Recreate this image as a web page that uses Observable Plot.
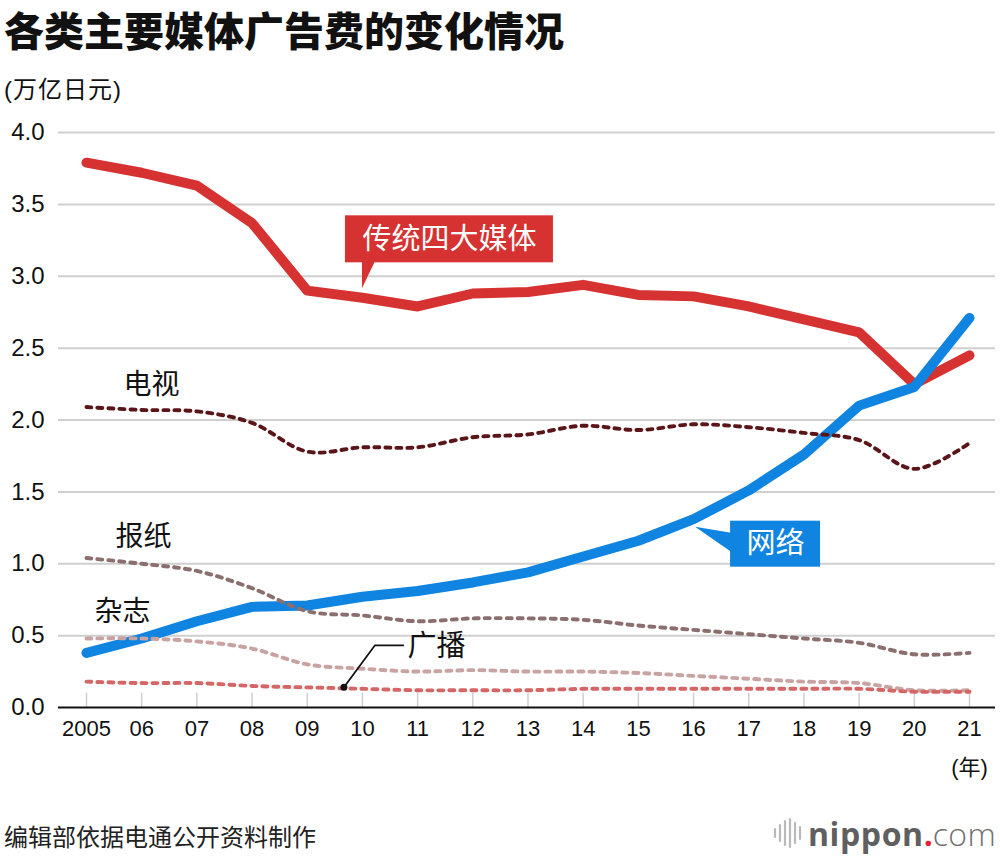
<!DOCTYPE html>
<html>
<head>
<meta charset="utf-8">
<script src="https://cdn.jsdelivr.net/npm/d3@7"></script>
<script src="https://cdn.jsdelivr.net/npm/@observablehq/plot@0.6"></script>
<style>
  body { margin: 0; background: #fff; }
  #wrap { position: relative; width: 1000px; height: 856px; color: #111;
          font-family: "Liberation Sans", "Noto Sans CJK SC", sans-serif; }
  #title { position: absolute; left: 4px; top: 0px; width: 990px; font: 900 40px "Noto Sans CJK SC", sans-serif; line-height: 58px; white-space: nowrap; }
  #unit { position: absolute; left: 4px; top: 74px; width: 400px; font: 400 24px "Liberation Sans", "Noto Sans CJK SC", sans-serif; line-height: 32px; letter-spacing: 1px; white-space: nowrap; }
  #chart { position: absolute; left: 0; top: 110px; }
  #caption { position: absolute; left: 4px; top: 819px; width: 600px; font: 400 24px "Noto Sans CJK SC", sans-serif; line-height: 34px; white-space: nowrap; color: #222; }
  #logo { position: absolute; right: 4px; top: 813px; height: 40px; display: flex; align-items: center; white-space: nowrap; }
  #logo .n { font: 700 32px "Open Sans", sans-serif; color: #5f5f5f; letter-spacing: 0.6px; }
  #logo .dot { font: 700 32px "Open Sans", sans-serif; color: #e3262e; }
  #logo .c { font: 300 32px "Open Sans", sans-serif; color: #6f6f6f; letter-spacing: 0.3px; }
</style>
</head>
<body>
<div id="wrap">
  <div id="title">各类主要媒体广告费的变化情况</div>
  <div id="unit">(万亿日元)</div>
  <div id="chart"></div>
  <div id="caption">编辑部依据电通公开资料制作</div>
  <div id="logo">
    <svg width="30" height="32" style="margin-right:6px">
      <g stroke="#b9b9b9" stroke-width="2.2" stroke-linecap="round">
        <line x1="3" x2="3" y1="12" y2="20"/>
        <line x1="8" x2="8" y1="8" y2="24"/>
        <line x1="13" x2="13" y1="4" y2="28"/>
        <line x1="18" x2="18" y1="2" y2="30"/>
        <line x1="23" x2="23" y1="6" y2="26"/>
        <line x1="28" x2="28" y1="10" y2="22"/>
      </g>
    </svg>
    <span class="n">nippon</span><span class="dot">.</span><span class="c">com</span>
  </div>
</div>
<script>
// ---- data (万亿日元) ----
const years = [2005, 2006, 2007, 2008, 2009, 2010, 2011, 2012, 2013, 2014, 2015, 2016, 2017, 2018, 2019, 2020, 2021];
const xTickLabels = ["2005", "06", "07", "08", "09", "10", "11", "12", "13", "14", "15", "16", "17", "18", "19", "20", "21"];
const yTicks = [0, 0.5, 1, 1.5, 2, 2.5, 3, 3.5, 4];

const fourMedia = [3.79, 3.72, 3.63, 3.37, 2.90, 2.85, 2.79, 2.88, 2.89, 2.94, 2.87, 2.86, 2.79, 2.70, 2.61, 2.25, 2.45];
const internet  = [0.38, 0.48, 0.60, 0.70, 0.71, 0.77, 0.81, 0.87, 0.94, 1.05, 1.16, 1.31, 1.51, 1.76, 2.10, 2.23, 2.71];
const tv        = [2.09, 2.07, 2.06, 1.98, 1.78, 1.81, 1.81, 1.88, 1.90, 1.96, 1.93, 1.97, 1.95, 1.91, 1.86, 1.66, 1.84];
const newspaper = [1.04, 1.00, 0.95, 0.83, 0.67, 0.64, 0.60, 0.62, 0.62, 0.61, 0.57, 0.54, 0.51, 0.48, 0.45, 0.37, 0.38];
const magazine  = [0.48, 0.48, 0.46, 0.41, 0.30, 0.27, 0.25, 0.26, 0.25, 0.25, 0.24, 0.22, 0.20, 0.18, 0.17, 0.12, 0.12];
const radio     = [0.18, 0.17, 0.17, 0.15, 0.14, 0.13, 0.12, 0.12, 0.12, 0.13, 0.13, 0.13, 0.13, 0.13, 0.13, 0.11, 0.11];

const seriesNames = ["传统四大媒体", "网络", "电视", "报纸", "杂志", "广播"];

const RED = "#d63232", BLUE = "#0f84e0";
const TV_C = "#5b1519", NP_C = "#8b6e6e", MG_C = "#c9a2a2", RD_C = "#d46666";
const CJK = '"Noto Sans CJK SC", sans-serif';

const rows = (vals) => years.map((y, i) => ({year: y, value: vals[i]}));

const thick = (vals, color) => Plot.line(rows(vals), {
  x: "year", y: "value", stroke: color, strokeWidth: 10,
  strokeLinejoin: "round", strokeLinecap: "round"
});
const dashed = (vals, color) => Plot.line(rows(vals), {
  x: "year", y: "value", stroke: color, strokeWidth: 3.9, curve: "catmull-rom",
  strokeDasharray: "5,6", strokeLinecap: "round"
});
const seriesLabel = (name, vals, dx, dy) => Plot.text([name], {
  x: () => years[0], y: () => vals[0], text: d => d, dx, dy,
  fontSize: 28, fill: "#111", fontFamily: CJK
});

const chart = Plot.plot({
  width: 1000, height: 680,
  marginTop: 22, marginBottom: 83, marginLeft: 58, marginRight: 5,
  style: {fontFamily: '"Liberation Sans", "Noto Sans CJK SC", sans-serif', background: "transparent", color: "#111", overflow: "visible"},
  x: {domain: [years[0], years[years.length - 1]], insetLeft: 28, insetRight: 26},
  y: {domain: [0, 4]},
  marks: [
    Plot.ruleY(yTicks.filter(d => d > 0), {stroke: "#cfcfcf", strokeWidth: 2}),
    Plot.ruleX(years, {x: d => d, y1: 0, y2: 0.1, stroke: "#cfcfcf", strokeWidth: 1.5}),
    Plot.ruleY([0], {stroke: "#111", strokeWidth: 2}),
    Plot.axisY({ticks: yTicks, tickSize: 0, tickPadding: 14, tickFormat: d => d.toFixed(1), fontSize: 24, label: null}),
    Plot.axisX({ticks: years, tickSize: 0, tickPadding: 13, tickFormat: d => xTickLabels[years.indexOf(d)], fontSize: 22, label: null}),
    Plot.text(["(年)"], {x: () => years[years.length - 1], y: () => 0, text: d => d, dy: 60, fontSize: 22, fill: "#111"}),
    thick(fourMedia, RED),
    thick(internet, BLUE),
    dashed(tv, TV_C),
    dashed(newspaper, NP_C),
    dashed(magazine, MG_C),
    dashed(radio, RD_C),
    seriesLabel(seriesNames[2], tv, 65, -22),
    seriesLabel(seriesNames[3], newspaper, 57, -21),
    seriesLabel(seriesNames[4], magazine, 36, -26),
    Plot.text([seriesNames[5]], {x: () => years[5], y: () => radio[5], text: d => d, dx: 45, dy: -42,
      textAnchor: "start", fontSize: 29, fill: "#111", fontFamily: CJK}),
    Plot.text([seriesNames[0]], {x: () => years[5], y: () => fourMedia[5], text: d => d, dx: 87, dy: -58,
      fontSize: 29, fill: "#fff", fontFamily: CJK}),
    Plot.text([seriesNames[1]], {x: () => years[11], y: () => internet[11], text: d => d, dx: 82, dy: 25,
      fontSize: 29, fill: "#fff", fontFamily: CJK})
  ]
});
document.getElementById("chart").appendChild(chart);

// ---- callout boxes and leader, placed from the chart's own scales ----
const sx = chart.scale("x"), sy = chart.scale("y");
function findTextGroup(str) {
  const t = Array.from(chart.querySelectorAll("text")).find(e => e.textContent === str);
  return t ? t.closest("g[aria-label]") || t.parentNode : null;
}
function insertBefore(g, tag) {
  const el = document.createElementNS("http://www.w3.org/2000/svg", tag);
  g.parentNode.insertBefore(el, g);
  return d3.select(el);
}
// 传统四大媒体
{
  const ax = sx.apply(years[5]), ay = sy.apply(fourMedia[5]);
  const grp = insertBefore(findTextGroup(seriesNames[0]), "g");
  grp.append("rect").attr("x", ax - 17).attr("y", ay - 82).attr("width", 208).attr("height", 47).attr("fill", RED);
  grp.append("path").attr("d", `M${ax},${ay - 36}L${ax + 13},${ay - 36}L${ax},${ay - 9}Z`).attr("fill", RED);
}
// 网络
{
  const ax = sx.apply(years[11]), ay = sy.apply(internet[11]);
  const grp = insertBefore(findTextGroup(seriesNames[1]), "g");
  grp.append("rect").attr("x", ax + 37).attr("y", ay + 2).attr("width", 90).attr("height", 46).attr("fill", BLUE);
  grp.append("path").attr("d", `M${ax + 2},${ay + 8}L${ax + 38},${ay + 14}L${ax + 38},${ay + 33}Z`).attr("fill", BLUE);
}
// 广播 leader
{
  const ax = sx.apply(years[5]), ay = sy.apply(radio[5]);
  const grp = insertBefore(findTextGroup(seriesNames[5]), "g");
  grp.append("path").attr("d", `M${ax - 18},${ay - 1}L${ax + 13},${ay - 43}L${ax + 42},${ay - 43}`)
    .attr("fill", "none").attr("stroke", "#111").attr("stroke-width", 1.8);
  grp.append("circle").attr("cx", ax - 18).attr("cy", ay - 1).attr("r", 3.5).attr("fill", "#111");
}
</script>
</body>
</html>
